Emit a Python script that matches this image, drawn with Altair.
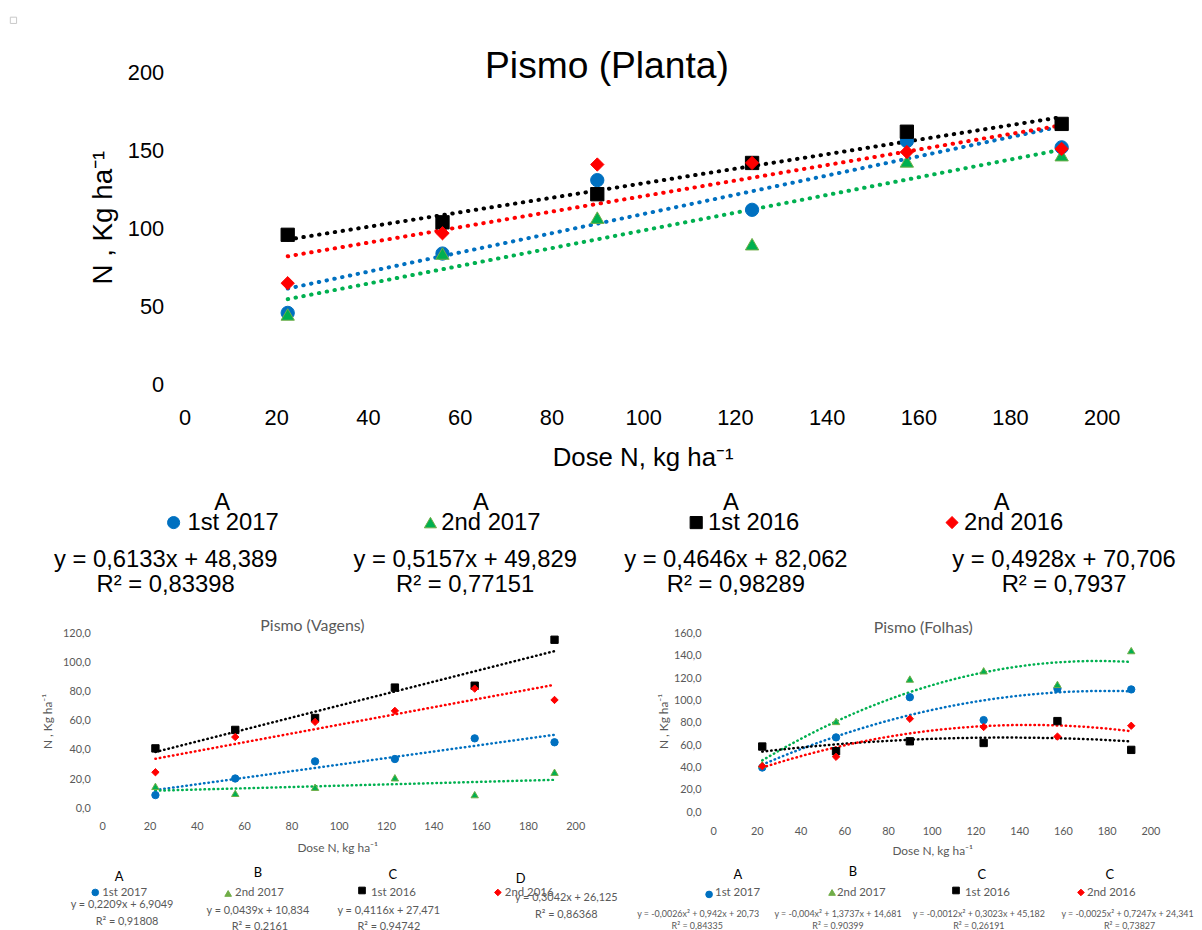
import altair as alt
import pandas as pd

# ---------------- data ----------------
series = ["1st 2017", "2nd 2017", "1st 2016", "2nd 2016"]
dose = [22.5, 56.25, 90, 123.75, 157.5, 191.25]

planta_1st2017 = [46, 84, 131, 112, 156, 152]
planta_2nd2017 = [45, 84, 107, 90, 143, 147]
planta_1st2016 = [96, 104, 122, 142, 162, 167]
planta_2nd2016 = [65, 97, 141, 142, 149, 151]

vagens_1st2017 = [9, 20.4, 32.2, 33.8, 48, 45.3]
vagens_2nd2017 = [15, 10.2, 14.4, 20.9, 9.3, 24.7]
vagens_1st2016 = [41.1, 53.8, 62, 82.9, 84.2, 115.8]
vagens_2nd2016 = [24.7, 48.9, 59.3, 66.9, 82.2, 74.4]

folhas_1st2017 = [40, 67, 103, 82.5, 110.7, 110]
folhas_2nd2017 = [42.7, 81.3, 119.3, 126.7, 114.5, 144.8]
folhas_1st2016 = [58.8, 54.6, 63.5, 62, 81.6, 55.8]
folhas_2nd2016 = [41.2, 49.6, 83.7, 76.3, 67.7, 77.4]

planta_letters = ["A", "A", "A", "A"]
planta_eq = ["y = 0,6133x + 48,389", "y = 0,5157x + 49,829",
             "y = 0,4646x + 82,062", "y = 0,4928x + 70,706"]
planta_r2 = ["R² = 0,83398", "R² = 0,77151", "R² = 0,98289", "R² = 0,7937"]

vagens_letters = ["A", "B", "C", "D"]
vagens_eq = ["y = 0,2209x + 6,9049", "y = 0,0439x + 10,834",
             "y = 0,4116x + 27,471", "y = 0,3042x + 26,125"]
vagens_r2 = ["R² = 0,91808", "R² = 0.2161", "R² = 0.94742", "R² = 0,86368"]

folhas_letters = ["A", "B", "C", "C"]
folhas_eq = ["y = -0,0026x² + 0,942x + 20,73", "y = -0,004x² + 1,3737x + 14,681",
             "y = -0,0012x² + 0,3023x + 45,182", "y = -0,0025x² + 0,7247x + 24,341"]
folhas_r2 = ["R² = 0,84335", "R² = 0.90399", "R² = 0,26191", "R² = 0,73827"]

x_ticks = [0, 20, 40, 60, 80, 100, 120, 140, 160, 180, 200]

# ---------------- styles ----------------
line_colors = ["#0070C0", "#00B050", "#000000", "#FF0000"]
shapes = ["circle", "triangle-up", "square", "diamond"]
top_fill = ["#0070C0", "#00B050", "#000000", "#FF0000"]
top_stroke = ["#0070C0", "#70AD47", "#000000", "#FF0000"]
bot_fill = ["#0070C0", "#70AD47", "#000000", "#FF0000"]
GRAY = "#595959"
ARIAL = "Liberation Sans"
CAL = "Lato"


def long_df(lists):
    rows = []
    for s, vals in zip(series, lists):
        for d, v in zip(dose, vals):
            rows.append({"dose": d, "N": v, "series": s})
    return pd.DataFrame(rows)


def txt(s, x, y, size, color, font, align="center"):
    return alt.Chart(pd.DataFrame({"t": [s]})).mark_text(
        align=align, baseline="middle", fontSize=size, color=color, font=font
    ).encode(text="t:N", x=alt.value(x), y=alt.value(y))


def marker(x, y, shape, fill, stroke, size):
    return alt.Chart(pd.DataFrame({"k": [0]})).mark_point(
        shape=shape, filled=True, fill=fill, stroke=stroke, strokeWidth=1,
        size=size, opacity=1
    ).encode(x=alt.value(x), y=alt.value(y))


def panel(lists, ymax, yvals, method, cfg):
    df = long_df(lists)
    base = alt.Chart(df)
    xaxis = alt.Axis(
        values=x_ticks, grid=False, domain=False, ticks=False, tickSize=0,
        labelPadding=cfg["xlabpad"], labelFlush=False, labelOverlap=False,
        labelFont=cfg["font"], labelFontSize=cfg["labsize"], labelColor=cfg["color"],
        title=cfg["xtitle"], titleFont=cfg["font"], titleFontSize=cfg["xtitlesize"],
        titleFontWeight="normal", titleColor=cfg["color"],
        titleX=cfg["xtx"], titleY=cfg["xty"], titleBaseline="middle", titleAlign="center",
    )
    yaxis = alt.Axis(
        values=yvals, grid=False, domain=False, ticks=False, tickSize=0,
        labelPadding=cfg["ylabpad"], labelFlush=False, labelOverlap=False,
        labelFont=cfg["font"], labelFontSize=cfg["labsize"], labelColor=cfg["color"],
        labelExpr=cfg["labexpr"],
        title=cfg["ytitle"], titleFont=cfg["font"], titleFontSize=cfg["ytitlesize"],
        titleFontWeight="normal", titleColor=cfg["color"],
        titleX=cfg["ytx"], titleY=cfg["yty"], titleBaseline="middle", titleAlign="center",
    )
    xenc = alt.X("dose:Q", scale=alt.Scale(domain=[0, 200], nice=False, zero=False), axis=xaxis)
    yenc = alt.Y("N:Q", scale=alt.Scale(domain=[0, ymax], nice=False, zero=False), axis=yaxis)
    reg = dict(groupby=["series"], method=method)
    if method == "poly":
        reg["order"] = 2
    lines = base.transform_regression("dose", "N", **reg).mark_line(
        strokeDash=cfg["dash"], strokeCap="round", strokeWidth=cfg["lw"]
    ).encode(
        x=xenc, y=yenc,
        color=alt.Color("series:N", scale=alt.Scale(domain=series, range=line_colors), legend=None),
    )
    pts = base.mark_point(filled=True, opacity=1, strokeWidth=1, size=cfg["msize"]).encode(
        x=xenc, y=yenc,
        fill=alt.Fill("series:N", scale=alt.Scale(domain=series, range=cfg["fill"]), legend=None),
        stroke=alt.Stroke("series:N", scale=alt.Scale(domain=series, range=cfg["stroke"]), legend=None),
        shape=alt.Shape("series:N", scale=alt.Scale(domain=series, range=shapes), legend=None),
    )
    return [lines, pts]


# ---------------- top panel: Planta ----------------
top_cfg = dict(font=ARIAL, labsize=22, color="#000000", xtitlesize=26, ytitlesize=28,
               xtitle="Dose N, kg ha⁻¹", ytitle="N , Kg ha⁻¹",
               xlabpad=23, ylabpad=21, xtx=462, xty=73, ytx=-82, yty=146,
               labexpr="datum.label", dash=[0.5, 7.5], lw=4, msize=180,
               fill=top_fill, stroke=top_stroke)
top_layers = panel([planta_1st2017, planta_2nd2017, planta_1st2016, planta_2nd2016],
                   200, [0, 50, 100, 150, 200], "linear", top_cfg)
top_layers.append(txt("Pismo (Planta)", 426, -5, 37.5, "#000000", ARIAL))
top_layers.append(alt.Chart(pd.DataFrame({"k": [0]})).mark_point(
    shape="square", filled=False, stroke="#c8c8c8", strokeWidth=1, size=40, opacity=1
).encode(x=alt.value(-172.5), y=alt.value(-52.5)))

t_letter_x = [38, 299, 551, 824]
t_marker_x = [-11, 248, 516, 774]
t_name_x = [3, 259, 528, 786]
t_eq_x = [-19, 283, 556, 887]
for i in range(4):
    top_layers.append(txt(planta_letters[i], t_letter_x[i], 434, 24, "#000000", ARIAL))
    top_layers.append(marker(t_marker_x[i], 454, shapes[i], top_fill[i], top_stroke[i], 150))
    top_layers.append(txt(series[i], t_name_x[i], 454, 24, "#000000", ARIAL, align="left"))
    top_layers.append(txt(planta_eq[i], t_eq_x[i], 492, 24, "#000000", ARIAL))
    top_layers.append(txt(planta_r2[i], t_eq_x[i], 517, 24, "#000000", ARIAL))

top = alt.layer(*top_layers).properties(width=925, height=315)

# ---------------- bottom panels ----------------
comma_expr = "replace(format(datum.value, '.1f'), '.', ',')"

vag_cfg = dict(font=CAL, labsize=11, color=GRAY, xtitlesize=12, ytitlesize=12,
               xtitle="Dose N, kg ha⁻¹", ytitle="N , Kg ha⁻¹",
               xlabpad=13, ylabpad=12, xtx=237, xty=40, ytx=-55, yty=88,
               labexpr=comma_expr, dash=[0.5, 4], lw=2.5, msize=55,
               fill=bot_fill, stroke=bot_fill)
vag_layers = panel([vagens_1st2017, vagens_2nd2017, vagens_1st2016, vagens_2nd2016],
                   120, [0, 20, 40, 60, 80, 100, 120], "linear", vag_cfg)
vag_layers.append(txt("Pismo (Vagens)", 212, -8, 16, GRAY, CAL))
v_letter = [(17, 245), (157, 241), (293, 243), (422, 247)]
v_marker = [(-7, 261), (127, 262), (262, 259), (399, 261)]
v_name = [(0, 262), (134, 262), (271, 262), (406, 262)]
v_eq = [(20, 274), (157, 280), (289, 280), (468, 267)]
v_r2 = [(25, 291), (159, 296), (289, 296), (468, 284)]
for i in range(4):
    vag_layers.append(txt(vagens_letters[i], v_letter[i][0], v_letter[i][1], 13, "#000000", CAL))
    vag_layers.append(marker(v_marker[i][0], v_marker[i][1], shapes[i], bot_fill[i], bot_fill[i], 45))
    vag_layers.append(txt(series[i], v_name[i][0], v_name[i][1], 11.5, GRAY, CAL, align="left"))
    vag_layers.append(txt(vagens_eq[i], v_eq[i][0], v_eq[i][1], 11, GRAY, CAL))
    vag_layers.append(txt(vagens_r2[i], v_r2[i][0], v_r2[i][1], 11, GRAY, CAL))
vag = alt.layer(*vag_layers).properties(width=477, height=176)

fol_cfg = dict(font=CAL, labsize=11, color=GRAY, xtitlesize=12, ytitlesize=12,
               xtitle="Dose N, kg ha⁻¹", ytitle="N , Kg ha⁻¹",
               xlabpad=14, ylabpad=12, xtx=221, xty=39, ytx=-50, yty=88,
               labexpr=comma_expr, dash=[0.5, 4], lw=2.5, msize=55,
               fill=bot_fill, stroke=bot_fill)
fol_layers = panel([folhas_1st2017, folhas_2nd2017, folhas_1st2016, folhas_2nd2016],
                   160, [0, 20, 40, 60, 80, 100, 120, 140, 160], "poly", fol_cfg)
fol_layers.append(txt("Pismo (Folhas)", 212, -6, 16, GRAY, CAL))
f_letter = [(25, 243), (141, 240), (271, 243), (400, 243)]
f_marker = [(-4, 263), (120, 261), (245, 259), (371, 261)]
f_name = [(2, 262), (125, 262), (254, 262), (377, 262)]
f_eq = [(-15, 283), (126, 283), (268, 283), (418, 283)]
f_r2 = [(-16, 295), (126, 295), (268, 295), (420, 295)]
for i in range(4):
    fol_layers.append(txt(folhas_letters[i], f_letter[i][0], f_letter[i][1], 13, "#000000", CAL))
    fol_layers.append(marker(f_marker[i][0], f_marker[i][1], shapes[i], bot_fill[i], bot_fill[i], 45))
    fol_layers.append(txt(series[i], f_name[i][0], f_name[i][1], 11.5, GRAY, CAL, align="left"))
    fol_layers.append(txt(folhas_eq[i], f_eq[i][0], f_eq[i][1], 9, GRAY, CAL))
    fol_layers.append(txt(folhas_r2[i], f_r2[i][0], f_r2[i][1], 9, GRAY, CAL))
fol = alt.layer(*fol_layers).properties(width=441, height=180)

# ---------------- layout ----------------
spacer = alt.Chart(pd.DataFrame({"k": [0]})).mark_point(opacity=0).encode(
    x=alt.value(0), y=alt.value(0)).properties(width=83, height=315)

toprow = alt.hconcat(spacer, top, spacing=0, bounds="flush")
botrow = alt.hconcat(vag, fol, spacing=139, bounds="flush")
# the nested top row reports no height to the flush layout, so the gap includes the plot height
chart = alt.vconcat(toprow, botrow, spacing=566, bounds="flush").properties(
    padding={"left": 0, "top": 3, "right": 0, "bottom": 0}
).configure_view(strokeWidth=0)

chart.save("out.html", embed_options={"renderer": "svg", "actions": False})
